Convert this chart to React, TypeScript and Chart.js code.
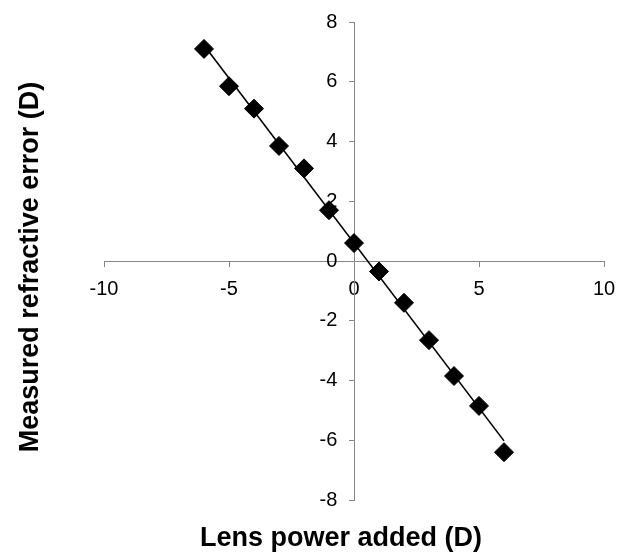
import React, { useEffect, useRef } from "react";
import { Chart, registerables } from "chart.js";

Chart.register(...registerables);

// Data
const lensPowerAdded: number[] = [-6, -5, -4, -3, -2, -1, 0, 1, 2, 3, 4, 5, 6];
const measuredRefractiveError: number[] = [7.1, 5.85, 5.1, 3.85, 3.1, 1.7, 0.6, -0.35, -1.4, -2.65, -3.85, -4.85, -6.4];

const xAxisRange: number[] = [-10, 10];
const xAxisStep = 5;
const yAxisRange: number[] = [-8, 8];
const yAxisStep = 2;

const xTitle = "Lens power added (D)";
const yTitle = "Measured refractive error (D)";

// Linear least-squares trendline (as in the spreadsheet's trendline)
function trendline(xs: number[], ys: number[]) {
  const n = xs.length;
  const mx = xs.reduce((a, b) => a + b, 0) / n;
  const my = ys.reduce((a, b) => a + b, 0) / n;
  let sxy = 0;
  let sxx = 0;
  for (let i = 0; i < n; i++) {
    sxy += (xs[i] - mx) * (ys[i] - my);
    sxx += (xs[i] - mx) * (xs[i] - mx);
  }
  const slope = sxy / sxx;
  const intercept = my - slope * mx;
  const x0 = Math.min(...xs);
  const x1 = Math.max(...xs);
  return [
    { x: x0, y: intercept + slope * x0 },
    { x: x1, y: intercept + slope * x1 },
  ];
}

const FONT = "'Liberation Sans', Arial, Helvetica, sans-serif";
const AXIS_COLOR = "#868686";
const GAP = "\u00A0\u00A0\u00A0";

const axisTitlesPlugin = {
  id: "axisTitlesPlugin",
  afterDraw(chart: any) {
    const ctx = chart.ctx;
    ctx.save();
    ctx.font = `bold 27px ${FONT}`;
    ctx.fillStyle = "#000";
    ctx.textAlign = "center";
    ctx.textBaseline = "alphabetic";
    ctx.fillText(xTitle, 341, 546);
    ctx.translate(38, 267);
    ctx.rotate(-Math.PI / 2);
    ctx.fillText(yTitle, 0, 0);
    ctx.restore();
  },
};

export default function App() {
  const canvasRef = useRef<HTMLCanvasElement | null>(null);

  useEffect(() => {
    if (!canvasRef.current) return;
    const points = lensPowerAdded.map((x, i) => ({ x, y: measuredRefractiveError[i] }));
    const chart = new Chart(canvasRef.current, {
      type: "scatter",
      data: {
        datasets: [
          {
            label: "Measured",
            data: points,
            pointStyle: "rectRot",
            pointRadius: 9.5,
            pointHoverRadius: 9.5,
            backgroundColor: "#000",
            borderColor: "#000",
            borderWidth: 1,
            showLine: false,
            order: 1,
          },
          {
            label: "Trend",
            data: trendline(lensPowerAdded, measuredRefractiveError),
            showLine: true,
            borderColor: "#000",
            borderWidth: 1.6,
            pointRadius: 0,
            pointHoverRadius: 0,
            fill: false,
            order: 2,
          },
        ],
      },
      options: {
        animation: false,
        responsive: false,
        layout: { padding: { left: 104, right: 24, top: 22, bottom: 55 } },
        plugins: {
          legend: { display: false },
          tooltip: { enabled: false },
          title: { display: false },
          subtitle: { display: false },
        },
        scales: {
          x: {
            type: "linear",
            position: { y: 0 } as any,
            min: xAxisRange[0],
            max: xAxisRange[1],
            ticks: {
              stepSize: xAxisStep,
              color: "#000",
              font: { family: FONT, size: 20 },
              padding: 11,
              maxRotation: 0,
            },
            grid: {
              display: true,
              drawOnChartArea: false,
              drawTicks: true,
              tickLength: 5,
              color: AXIS_COLOR,
            },
            border: { display: true, color: AXIS_COLOR, width: 1 },
          },
          y: {
            type: "linear",
            position: { x: 0 } as any,
            min: yAxisRange[0],
            max: yAxisRange[1],
            ticks: {
              stepSize: yAxisStep,
              color: "#000",
              font: { family: FONT, size: 20 },
              callback: (v: any) => `${v}${GAP}`,
            },
            grid: {
              display: true,
              drawOnChartArea: false,
              drawTicks: true,
              tickLength: 5,
              color: AXIS_COLOR,
            },
            border: { display: true, color: AXIS_COLOR, width: 1 },
          },
        },
      },
      plugins: [axisTitlesPlugin],
    });
    return () => chart.destroy();
  }, []);

  return (
    <div style={{ position: "fixed", left: 0, top: 0, width: 628, height: 555, background: "#fff" }}>
      <canvas ref={canvasRef} width={628} height={555} style={{ display: "block" }} />
    </div>
  );
}
